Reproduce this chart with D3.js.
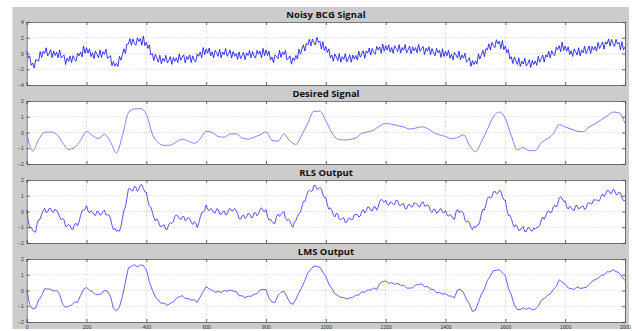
<!DOCTYPE html>
<html lang="en">
<head>
<meta charset="UTF-8">
<title>Adaptive filter outputs</title>
<script src="https://d3js.org/d3.v7.min.js"></script>
<style>
  body { margin: 0; background: #fff; }
  .title { font: bold 9.5px "Open Sans", sans-serif; fill: #111; text-anchor: middle; }
  .tick-label { font: 5px "Liberation Sans", sans-serif; fill: #333; }
  .grid { stroke: #b8b8b8; stroke-width: 0.6; stroke-dasharray: 1,1.5; }
</style>
</head>
<body>
<script>
// sample index axis
const xTicks = [0, 200, 400, 600, 800, 1000, 1200, 1400, 1600, 1800, 2000];
const step5 = d3.range(0, 2001, 5);
const step10 = d3.range(0, 2001, 10);
const step20 = d3.range(0, 2001, 20);

const titles = ["Noisy BCG Signal", "Desired Signal", "RLS Output", "LMS Output"];
const yTicksBig = [-4, -2, 0, 2, 4];
const yTicksSmall = [-2, -1, 0, 1, 2];

// noisy BCG, every 5 samples
const noisy = [0.35,-0.6,-0.3,-1.5,-1.2,-1.85,-0.8,-0.85,-0.95,0.25,-0.5,0.28,0.0,0.73,-0.3,0.03,0.5,-0.53,0.3,-0.25,
  0.15,-0.55,0.45,-0.55,-0.35,-0.2,-1.4,-0.6,-1.0,-0.3,-1.15,-0.28,-0.75,-0.98,0.05,-0.3,0.2,-0.43,0.95,0.03,
  0.75,0.05,0.6,-0.4,0.1,-0.65,0.3,-0.1,-0.55,0.45,-0.5,0.23,-0.1,0.53,-0.6,-0.5,-0.25,-1.55,-1.0,-1.6,
  -1.25,-1.65,-0.35,-0.85,-0.15,0.6,0.0,1.2,1.2,1.9,1.05,1.85,1.3,1.03,2.0,1.53,1.9,1.05,2.2,1.0,
  1.45,0.65,1.1,-0.2,0.0,-0.9,-0.1,-0.58,-1.1,-0.23,-1.3,-0.63,-1.0,-0.23,-1.2,-0.88,-0.4,-1.38,-0.5,-1.0,
  -0.55,-1.15,-0.05,-0.85,-0.45,-0.15,-1.2,-0.38,-0.75,-0.18,-1.15,-0.3,-0.8,-1.05,-0.05,-0.35,0.2,-0.53,0.75,-0.15,
  0.6,0.03,0.7,-0.3,0.2,-0.55,0.4,0.05,-0.35,0.53,-0.55,0.18,-0.15,0.63,-0.35,-0.03,0.45,-0.58,0.25,-0.35,
  0.0,-0.75,0.2,-0.65,-0.3,0.13,-0.8,0.08,-0.25,0.38,-0.55,0.25,-0.3,-0.58,0.4,-0.08,0.3,-0.53,0.65,-0.28,
  0.45,-0.25,0.3,-0.83,-0.45,-1.18,-0.2,-0.4,-0.65,0.4,-0.5,0.2,-0.15,0.4,-0.8,-0.63,-0.3,-1.35,-0.55,-0.88,
  -0.25,-0.7,0.55,-0.05,0.55,1.1,0.3,1.3,1.1,1.8,0.95,1.83,1.35,1.08,2.05,1.4,1.6,0.55,1.5,0.38,
  0.9,0.13,0.6,-0.55,-0.2,-0.98,-0.05,-0.45,-0.9,-0.03,-1.1,-0.4,-0.75,-0.03,-1.05,-0.68,-0.15,-1.1,-0.2,-0.7,
  -0.25,-0.83,0.3,-0.48,-0.05,0.35,-0.6,0.33,0.05,0.7,-0.2,0.65,0.15,-0.1,0.9,0.45,0.85,0.03,1.2,0.28,
  1.0,0.43,1.1,0.18,0.75,0.03,1.0,0.65,0.25,1.13,0.05,0.75,0.4,1.13,0.1,0.45,0.95,-0.03,0.85,0.33,
  0.75,0.1,1.15,0.28,0.6,0.9,-0.15,0.68,0.3,0.85,-0.15,0.63,0.05,-0.28,0.65,0.1,0.4,-0.5,0.6,-0.38,
  0.3,-0.28,0.4,-0.6,-0.1,-0.83,0.15,-0.18,-0.55,0.3,-0.8,-0.18,-0.6,0.03,-1.1,-0.88,-0.5,-1.63,-0.9,-1.4,
  -0.95,-1.35,-0.05,-0.7,-0.15,0.4,-0.4,0.63,0.45,1.23,0.45,1.4,1.0,0.75,1.75,1.23,1.55,0.6,1.65,0.48,
  0.95,0.1,0.5,-0.7,-0.4,-1.28,-0.45,-0.9,-1.4,-0.55,-1.65,-0.98,-1.35,-0.6,-1.6,-1.28,-0.8,-1.78,-0.9,-1.4,
  -0.95,-1.5,-0.35,-1.1,-0.65,-0.2,-1.1,-0.18,-0.45,0.28,-0.55,0.35,-0.1,-0.28,0.8,0.48,1.0,0.23,1.45,0.38,
  0.95,0.28,0.85,-0.15,0.35,-0.38,0.6,0.23,-0.2,0.73,-0.3,0.43,0.1,0.93,0.0,0.4,0.95,0.0,0.9,0.43,
  0.9,0.3,1.4,0.63,1.05,1.48,0.55,1.48,1.2,1.85,0.95,1.78,1.25,0.9,1.8,1.18,1.4,0.45,1.5,0.45,
  0.85];

// desired signal, every 20 samples
const desired = [-0.05,-1.17,-0.45,0.02,0.03,-0.1,-0.65,-1.07,-0.95,-0.5,0.07,-0.2,-0.38,-0.12,-0.6,-1.3,-0.2,1.25,1.5,1.52,
  1.15,-0.1,-0.65,-0.82,-0.8,-0.6,-0.42,-0.55,-0.68,-0.4,0.08,0.0,-0.25,-0.3,-0.1,-0.08,-0.35,-0.42,-0.3,-0.15,
  0.04,-0.5,-0.55,-0.1,-0.55,-0.75,-0.15,0.6,1.35,1.35,0.75,0.0,-0.42,-0.48,-0.44,-0.35,-0.05,0.04,0.15,0.42,
  0.57,0.52,0.44,0.35,0.22,0.28,0.36,0.25,0.0,-0.15,-0.25,-0.4,-0.32,-0.15,-0.8,-1.22,-0.6,0.2,1.0,1.3,
  0.89,-0.2,-1.1,-0.96,-1.15,-1.15,-0.65,-0.4,-0.1,0.5,0.35,0.22,0.08,0.05,0.35,0.55,0.8,1.05,1.3,1.25,0.57];

// RLS output, every 5 samples
const rls = [0.12,-0.57,-1.05,-1.0,-1.19,-1.3,-1.3,-0.76,-0.52,-0.48,-0.18,0.05,0.2,-0.07,-0.02,0.19,0.19,-0.01,-0.05,0.15,
  0.07,-0.08,-0.35,-0.52,-0.44,-0.54,-0.95,-0.93,-0.82,-0.89,-1.13,-1.12,-0.8,-0.75,-0.92,-0.66,-0.26,0.05,0.1,0.14,
  0.37,0.04,-0.1,0.05,-0.04,-0.2,-0.25,0.02,-0.02,-0.23,-0.18,0.0,0.1,-0.22,-0.22,-0.22,-0.41,-0.86,-1.15,-1.07,
  -1.26,-1.2,-1.25,-0.97,-0.44,0.09,0.3,0.83,1.43,1.47,1.32,1.31,1.6,1.55,1.28,1.42,1.69,1.7,1.45,1.24,
  1.22,0.69,0.35,0.28,-0.04,-0.37,-0.6,-0.46,-0.62,-0.93,-0.98,-0.88,-0.85,-1.15,-1.12,-0.82,-0.71,-0.76,-0.65,-0.3,
  -0.23,-0.28,-0.45,-0.52,-0.34,-0.31,-0.6,-0.53,-0.37,-0.44,-0.68,-0.82,-0.65,-0.73,-1.02,-0.76,-0.36,-0.08,-0.05,0.09,
  0.42,0.14,0.05,0.2,0.11,-0.05,-0.1,0.17,0.13,-0.16,-0.18,-0.03,0.05,-0.22,-0.17,0.11,0.19,0.04,0.05,0.2,
  0.07,-0.13,-0.45,-0.49,-0.29,-0.21,-0.45,-0.33,-0.12,-0.16,-0.38,-0.39,-0.1,-0.08,-0.27,-0.14,0.14,0.23,0.05,-0.02,
  0.12,-0.32,-0.55,-0.48,-0.64,-0.75,-0.75,-0.31,-0.17,-0.31,-0.18,-0.05,0.0,-0.45,-0.57,-0.49,-0.61,-0.89,-1.0,-0.65,
  -0.58,-0.31,-0.15,-0.04,0.31,0.64,0.65,0.93,1.28,1.37,1.27,1.31,1.65,1.65,1.43,1.42,1.54,1.45,1.1,0.89,
  0.87,0.41,0.15,0.23,0.06,-0.2,-0.35,-0.11,-0.17,-0.48,-0.53,-0.43,-0.4,-0.7,-0.67,-0.44,-0.41,-0.54,-0.5,-0.2,
  -0.18,-0.2,-0.35,-0.29,0.01,0.12,-0.1,0.05,0.28,0.27,0.07,0.04,0.3,0.3,0.08,0.29,0.64,0.78,0.65,0.59,
  0.72,0.46,0.4,0.6,0.56,0.46,0.45,0.72,0.68,0.4,0.37,0.48,0.5,0.18,0.18,0.41,0.44,0.29,0.3,0.55,
  0.52,0.47,0.3,0.31,0.56,0.62,0.35,0.35,0.43,0.32,0.02,-0.07,0.15,0.13,-0.12,-0.06,0.14,0.18,-0.05,-0.09,
  0.07,-0.22,-0.3,-0.18,-0.29,-0.45,-0.5,-0.04,0.13,-0.06,0.02,0.0,-0.1,-0.55,-0.67,-0.59,-0.71,-1.01,-1.15,-0.95,
  -1.03,-0.88,-0.85,-0.62,-0.14,0.14,0.1,0.43,0.83,0.94,0.87,0.91,1.25,1.3,1.13,1.17,1.34,1.28,0.95,0.74,
  0.72,0.14,-0.25,-0.23,-0.44,-0.77,-1.0,-0.84,-0.97,-1.21,-1.18,-1.03,-0.95,-1.27,-1.27,-1.04,-1.01,-1.21,-1.25,-1.05,
  -1.13,-1.01,-1.0,-0.89,-0.54,-0.36,-0.5,-0.3,-0.02,0.04,-0.08,-0.04,0.3,0.4,0.28,0.49,0.84,0.95,0.8,0.64,
  0.67,0.31,0.15,0.33,0.26,0.11,0.05,0.37,0.38,0.17,0.22,0.33,0.35,0.13,0.23,0.51,0.59,0.47,0.5,0.75,
  0.72,0.75,0.65,0.69,0.96,1.12,0.95,1.1,1.33,1.34,1.17,1.14,1.4,1.35,1.08,1.09,1.24,1.18,0.85,0.68,
  0.7];

// LMS output, every 10 samples
const lms = [0.05,-0.89,-1.18,-1.11,-0.61,-0.32,0.11,0.1,0.08,-0.03,0.0,-0.24,-0.88,-1.06,-1.01,-0.92,-0.74,-0.75,-0.32,0.07,
  0.2,0.01,-0.08,-0.26,-0.26,-0.22,0.01,-0.05,-0.37,-1.13,-1.3,-1.04,-0.38,0.54,1.44,1.53,1.64,1.5,1.63,1.59,
  1.3,0.56,0.02,-0.41,-0.61,-0.82,-0.79,-0.93,-0.82,-0.73,-0.5,-0.39,-0.33,-0.51,-0.51,-0.62,-0.59,-0.75,-0.42,-0.08,
  0.25,0.11,0.02,-0.11,-0.06,-0.12,0.01,-0.05,0.03,-0.03,-0.05,-0.34,-0.33,-0.46,-0.36,-0.37,-0.24,-0.2,0.03,0.07,
  0.05,-0.49,-0.73,-0.76,-0.31,-0.12,-0.04,-0.4,-0.77,-0.88,-0.55,-0.14,0.22,0.64,1.14,1.33,1.56,1.52,1.48,1.17,
  0.9,0.41,0.12,-0.21,-0.31,-0.44,-0.44,-0.55,-0.47,-0.45,-0.3,-0.29,-0.08,-0.11,0.04,0.03,0.16,0.07,0.43,0.57,
  0.6,0.46,0.5,0.39,0.46,0.33,0.34,0.15,0.15,0.17,0.35,0.38,0.42,0.24,0.24,0.08,0.06,-0.15,-0.12,-0.23,
  -0.2,-0.34,-0.36,-0.46,0.04,0.08,-0.14,-0.55,-0.87,-1.33,-1.25,-0.74,-0.23,0.09,0.64,0.93,1.26,1.28,1.33,1.12,
  0.95,0.16,-0.28,-0.91,-1.2,-1.22,-1.09,-1.2,-1.11,-1.23,-1.19,-0.99,-0.63,-0.51,-0.31,-0.22,0.06,0.25,0.68,0.52,
  0.4,0.16,0.12,0.06,0.24,0.13,0.16,0.2,0.38,0.57,0.7,0.76,0.97,0.99,1.19,1.18,1.32,1.2,1.13,0.87,0.63];

const W = 632, H = 331;
const svg = d3.select("body").append("svg").attr("width", W).attr("height", H);

// grey figure panel
svg.append("rect").attr("x", 12.5).attr("y", 7).attr("width", 616.5).attr("height", 322).attr("fill", "#cccccc");

const left = 26.7, right = 625, plotH = 63;
const tops = [22, 101, 180, 259];

const x = d3.scaleLinear().domain([0, 2000]).range([left, right]);

const panels = [
  { xs: step5, ys: noisy, dom: [-4, 4], ticks: yTicksBig, color: "#0a0aff", width: 0.8, curve: d3.curveLinear },
  { xs: step20, ys: desired, dom: [-2, 2], ticks: yTicksSmall, color: "#8080ff", width: 1, curve: d3.curveMonotoneX },
  { xs: step5, ys: rls, dom: [-2, 2], ticks: yTicksSmall, color: "#2a2aff", width: 0.8, curve: d3.curveLinear },
  { xs: step10, ys: lms, dom: [-2, 2], ticks: yTicksSmall, color: "#5050ff", width: 0.9, curve: d3.curveLinear }
];

panels.forEach((p, i) => {
  const top = tops[i];
  const y = d3.scaleLinear().domain(p.dom).range([top + plotH, top]);
  const g = svg.append("g");

  g.append("rect").attr("x", left).attr("y", top).attr("width", right - left).attr("height", plotH)
    .attr("fill", "#fff");

  // dotted grid
  g.selectAll(".vg").data(xTicks.slice(1, -1)).enter().append("line").attr("class", "grid")
    .attr("x1", d => x(d)).attr("x2", d => x(d)).attr("y1", top).attr("y2", top + plotH);
  g.selectAll(".hg").data(p.ticks.slice(1, -1)).enter().append("line").attr("class", "grid")
    .attr("x1", left).attr("x2", right).attr("y1", d => y(d)).attr("y2", d => y(d));

  // signal
  const line = d3.line().x((d, k) => x(p.xs[k])).y(d => y(d)).curve(p.curve);
  g.append("path").datum(p.ys).attr("d", line).attr("fill", "none")
    .attr("stroke", p.color).attr("stroke-width", p.width).attr("stroke-linejoin", "round");

  // axes with inward ticks
  const axB = d3.axisBottom(x).tickValues(xTicks).tickSize(-3).tickFormat(i === 3 ? d3.format("d") : "");
  const axT = d3.axisTop(x).tickValues(xTicks).tickSize(-3).tickFormat("");
  const axL = d3.axisLeft(y).tickValues(p.ticks).tickSize(-3).tickPadding(3).tickFormat(d3.format("d"));
  const axR = d3.axisRight(y).tickValues(p.ticks).tickSize(-3).tickFormat("");

  [[axB, `translate(0,${top + plotH})`], [axT, `translate(0,${top})`],
   [axL, `translate(${left},0)`], [axR, `translate(${right},0)`]].forEach(([ax, tr]) => {
    const a = g.append("g").attr("transform", tr).call(ax);
    a.select(".domain").attr("stroke", "#555").attr("stroke-width", 0.8);
    a.selectAll(".tick line").attr("stroke", "#444").attr("stroke-width", 0.8);
    a.selectAll(".tick text").attr("class", "tick-label");
  });

  g.append("text").attr("class", "title").attr("x", 326).attr("y", top - 4).text(titles[i]);
});
</script>
</body>
</html>
